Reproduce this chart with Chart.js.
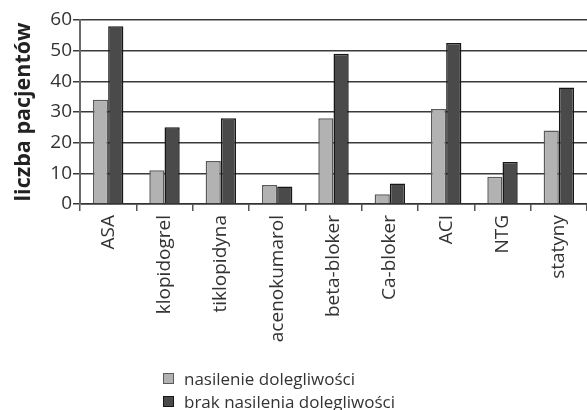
<!DOCTYPE html>
<html lang="pl">
<head>
<meta charset="utf-8">
<script src="https://cdn.jsdelivr.net/npm/chart.js@4/dist/chart.umd.min.js"></script>
<style>
  html, body { margin: 0; padding: 0; background: #fff; }
  #wrap { position: relative; width: 587px; height: 410px; }
  #legend {
    position: absolute; left: 163px; top: 367px;
    font-family: "Open Sans", "Noto Sans", sans-serif; font-size: 17px; color: #333;
    line-height: 23px;
  }
  #legend .item { display: flex; align-items: center; white-space: nowrap; }
  #legend .box { width: 9px; height: 9px; margin-right: 10px; box-sizing: content-box; }
</style>
</head>
<body>
<div id="wrap">
  <canvas id="c" width="587" height="410"></canvas>
  <div id="legend"></div>
</div>
<script>
// Leki przyjmowane przez pacjentów
const categories = ["ASA", "klopidogrel", "tiklopidyna", "acenokumarol", "beta-bloker", "Ca-bloker", "ACI", "NTG", "statyny"];
const seriesNames = ["nasilenie dolegliwości", "brak nasilenia dolegliwości"];
const nasilenie = [34, 11, 14, 6.2, 28, 3.2, 31, 8.9, 24];
const brakNasilenia = [58, 25, 28, 5.7, 49, 6.7, 52.5, 13.7, 38];
const yTicks = [0, 10, 20, 30, 40, 50, 60];

const fontFamily = '"Open Sans", "Noto Sans", sans-serif';
const fills = ["#b2b2b2", "#4a4a4a"];
const borders = ["#5a5a5a", "#161616"];

const chart = new Chart(document.getElementById("c"), {
  type: "bar",
  data: {
    labels: categories,
    datasets: [
      { label: seriesNames[0], data: nasilenie, backgroundColor: fills[0], borderColor: borders[0], borderWidth: 1.5 },
      { label: seriesNames[1], data: brakNasilenia, backgroundColor: fills[1], borderColor: borders[1], borderWidth: 1.5 }
    ]
  },
  options: {
    responsive: false,
    animation: false,
    events: [],
    layout: { padding: { top: 20, right: 0, left: 0, bottom: 0 } },
    datasets: { bar: { categoryPercentage: 0.54, barPercentage: 1.0 } },
    plugins: { legend: { display: false }, tooltip: { enabled: false } },
    scales: {
      x: {
        offset: true,
        grid: { drawOnChartArea: false, drawTicks: true, tickLength: 7, color: "#555", lineWidth: 1.5, offset: true },
        border: { color: "#333", width: 1.5 },
        ticks: {
          minRotation: 90, maxRotation: 90, autoSkip: false, padding: 4,
          color: "#333", font: { family: fontFamily, size: 19 }
        },
        afterFit(scale) { scale.height = 206; }
      },
      y: {
        min: 0, max: 60,
        afterBuildTicks(scale) { scale.ticks = yTicks.map(v => ({ value: v })); },
        grid: { color: "#3a3a3a", lineWidth: 1.5, drawTicks: true, tickLength: 7 },
        border: { color: "#6a6a6a", width: 2 },
        ticks: { color: "#333", padding: 1, font: { family: fontFamily, size: 19 } },
        title: {
          display: true, text: "liczba pacjentów", color: "#222",
          font: { family: fontFamily, size: 21.5, weight: "bold" }, padding: { top: 11, bottom: 4 }
        },
        afterFit(scale) { scale.width = 80; }
      }
    }
  }
});

// Legenda pod wykresem
const legend = document.getElementById("legend");
chart.data.datasets.forEach(ds => {
  const item = document.createElement("div");
  item.className = "item";
  const box = document.createElement("span");
  box.className = "box";
  box.style.background = ds.backgroundColor;
  box.style.border = "1.5px solid " + ds.borderColor;
  const txt = document.createElement("span");
  txt.textContent = ds.label;
  item.appendChild(box);
  item.appendChild(txt);
  legend.appendChild(item);
});
</script>
</body>
</html>
